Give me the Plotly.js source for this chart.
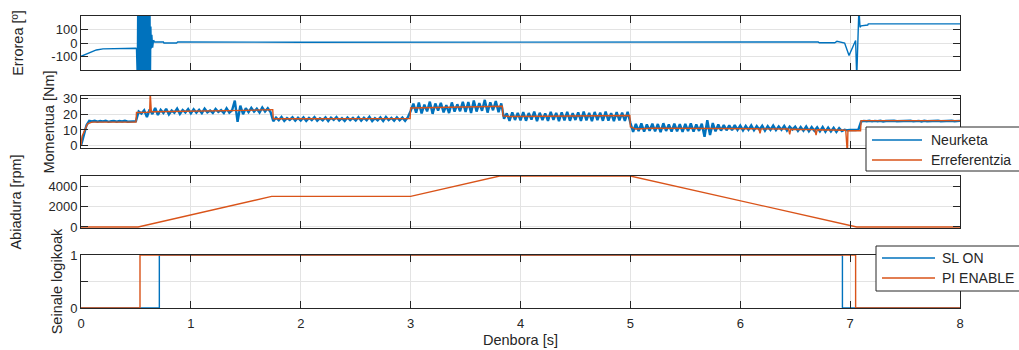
<!DOCTYPE html>
<html>
<head>
<meta charset="utf-8">
<script src="https://cdn.plot.ly/plotly-3.0.1.min.js"></script>
<style>html,body{margin:0;padding:0;background:#fff;}#chart{width:1019px;height:350px;}</style>
</head>
<body>
<div id="chart"></div>
<script>
// ---------- DATA ----------
// Subplot 1: Errorea [º]
const errT = [0, 0.05, 0.1, 0.14, 0.2, 0.3, 0.4, 0.5, 0.505,
  0.512, 0.516, 0.52, 0.524, 0.528, 0.532, 0.536, 0.54, 0.544, 0.548, 0.552, 0.556, 0.56, 0.564, 0.568,
  0.572, 0.576, 0.58, 0.584, 0.588, 0.592, 0.596, 0.6, 0.604, 0.608, 0.612, 0.616, 0.62, 0.624, 0.628, 0.632,
  0.636, 0.64, 0.645, 0.652, 0.66, 0.67, 0.75, 0.755, 0.87, 0.88,
  2.0, 3.0, 4.0, 5.0, 6.0, 6.71, 6.72, 6.86, 6.88, 6.92, 6.95, 6.99, 7.02, 7.05, 7.06, 7.08, 7.09, 7.1, 7.16, 7.165, 8];
const errV = [-96, -80, -62, -50, -42, -40, -39, -38, -45,
  -250, 250, -250, 250, -250, 250, -250, 250, -250, 250, -250, 250, -250, 250, -250,
  250, -250, 250, -250, 250, -250, 250, -250, 250, -250, 250, -250, 250, -250, 250, -250,
  120, -40, 59, -34, 20, 7, 7, 0, 0, 7,
  6, 7, 6, 7, 6, 7, 2, 2, 12, 8, 0, -90, -36, 18, -250, 250, 114, 124, 130, 138, 138];

// Subplot 2: Momentua [Nm]
const torqueDt = 0.025; // sampling interval of the measured torque [s]
const torqueMeas = [
  0, 6, 13, 15.8, 15.4, 15.9, 15.3, 15.7, 15.5, 15.9, 15.2, 15.6, 15.8, 15.3, 15.7, 15.4, 15.9, 15.3, 15.6, 15.5,
  15.6, 21.8, 20.5, 22.6, 18.2, 23.1, 20.2, 24.0, 19.6, 22.9, 20.8, 23.5, 19.9, 22.4, 21.0, 23.6, 20.3, 22.8, 21.2, 23.4,
  20.6, 23.2, 21.0, 22.9, 20.7, 23.6, 21.3, 22.5, 20.9, 23.4, 21.5, 22.7, 20.8, 23.8, 21.1, 22.6, 28.8, 15.2, 25.5, 20.1,
  23.9, 21.4, 24.1, 21.7, 23.6, 21.2, 24.3, 21.8, 23.9, 21.5, 15.6, 17.9, 16.2, 18.3, 15.8, 17.6, 16.4, 18.1, 15.9, 17.8,
  16.1, 18.0, 15.8, 17.7, 16.3, 18.2, 15.9, 17.5, 16.2, 18.1, 15.7, 17.9, 16.4, 18.3, 16.0, 17.6, 15.8, 18.0, 16.3, 17.7,
  16.0, 18.2, 15.9, 17.8, 16.2, 18.4, 15.7, 17.6, 16.1, 18.0, 15.8, 18.3, 16.3, 17.7, 15.9, 18.1, 16.2, 17.9, 15.8, 18.2,
  22.1, 26.8, 21.0, 27.5, 20.6, 26.2, 21.9, 28.1, 20.3, 26.9, 22.4, 27.3, 21.2, 25.8, 20.8, 27.6, 21.7, 26.4, 22.0, 28.0,
  21.5, 27.9, 20.9, 28.8, 21.8, 27.2, 22.3, 29.2, 21.1, 27.7, 22.6, 28.5, 21.4, 27.0, 17.2, 20.6, 15.8, 21.3, 16.4, 20.9,
  16.1, 21.4, 15.9, 20.8, 16.6, 21.7, 15.7, 21.0, 16.3, 20.6, 15.8, 21.5, 16.5, 20.9, 15.6, 21.2, 16.2, 21.6, 15.9, 20.7,
  16.4, 21.3, 15.8, 21.8, 16.1, 20.9, 15.7, 21.5, 16.3, 21.1, 15.9, 21.7, 16.0, 20.8, 15.6, 21.4, 16.2, 21.0, 15.8, 21.6,
  14.6, 8.8, 13.9, 9.3, 14.2, 8.9, 13.6, 9.5, 14.0, 9.1, 13.8, 8.7, 14.3, 9.4, 13.5, 9.0, 14.1, 9.2, 13.7, 8.8,
  13.9, 9.3, 14.2, 8.9, 13.6, 9.4, 14.0, 5.6, 16.2, 6.8, 14.4, 9.1, 13.5, 9.6, 13.2, 9.8, 12.9, 9.9, 13.1, 10.0,
  12.8, 9.7, 12.6, 10.1, 12.9, 9.8, 12.5, 10.2, 12.7, 9.6, 12.4, 10.0, 12.8, 9.9, 12.3, 10.1, 12.6, 9.7, 12.2, 10.3,
  12.1, 9.4, 11.9, 9.6, 12.2, 9.2, 11.8, 9.5, 11.7, 9.1, 11.9, 8.9, 11.5, 9.0, 11.4, 8.8, 11.2, 9.3, 10.2, 9.8,
  10.1, 9.9, 10.0, 10.2, 15.4, 15.8, 15.6, 15.9, 15.5, 15.8, 15.6, 15.9, 15.4, 15.7, 15.8, 15.5, 15.9, 15.6, 15.7, 15.5,
  15.8, 15.6, 15.9, 15.5, 15.7, 15.8, 15.4, 15.9, 15.6, 15.7, 15.8, 15.5, 15.9, 15.6, 15.7, 15.8, 15.5, 15.9, 15.6, 15.7,
  15.8];
const torqueRefT = [0, 0.01, 0.06, 0.1, 0.5, 0.505, 0.6, 0.625, 0.63, 0.64, 0.65, 0.9, 1.2, 1.5, 1.745, 1.75, 2.0, 2.5, 2.995,
  3.0, 3.2, 3.5, 3.835, 3.84, 3.9, 4.2, 4.6, 4.995, 5.0, 5.05, 5.2, 5.6, 6.0, 6.17, 6.18, 6.19, 6.44, 6.45, 6.46,
  6.68, 6.69, 6.7, 6.96, 6.965, 6.975, 6.98, 7.095, 7.1, 8];
const torqueRefV = [0, 6, 14, 15, 15, 21.2, 21.3, 21.4, 34, 21.6, 21.6, 21.8, 22.2, 22.5, 23, 17.2, 17.2, 17.2, 17.3,
  24.0, 24.2, 24.8, 25.2, 19.0, 18.6, 18.8, 19.0, 19.2, 12.0, 10.6, 11.2, 11.0, 10.8, 10.8, 7.8, 10.7, 10.6, 7.2, 10.5,
  10.2, 6.7, 10.1, 9.8, -5, -5, 9.6, 9.5, 16.0, 16.0];

// Subplot 3: Abiadura [rpm]
const speedT = [0, 0.52, 1.735, 3.0, 3.81, 5.0, 7.06, 8];
const speedV = [0, 0, 3000, 3000, 5000, 5000, 0, 0];

// Subplot 4: Seinale logikoak (step signals, value holds until next time)
const slOnT = [0, 0.713, 6.93, 8];
const slOnV = [0, 1, 0, 0];
const piEnT = [0, 0.537, 7.05, 8];
const piEnV = [0, 1, 0, 0];

// Tick labels
const xTicks = [0, 1, 2, 3, 4, 5, 6, 7, 8];
const xTickText = ['0', '1', '2', '3', '4', '5', '6', '7', '8'];
const errTicks = [-100, 0, 100];
const errTickText = ['-100', '0', '100'];
const torqueTicks = [0, 10, 20, 30];
const speedTicks = [0, 2000, 4000];
const sigTicks = [0, 0.5, 1];
const sigTickText = ['0', '', '1'];

// Legend entries
const legend1Names = ['Neurketa', 'Erreferentzia'];
const legend2Names = ['SL ON', 'PI ENABLE'];

// ---------- PLOT ----------
const BLUE = '#0072BD', ORANGE = '#D95319';
const FONT = 'Liberation Sans, Arial, Helvetica, sans-serif';
const TXT = '#262626';

const torqueMeasT = torqueMeas.map((_, i) => +(i * torqueDt).toFixed(3));

const traces = [
  {x: errT, y: errV, xaxis: 'x', yaxis: 'y', mode: 'lines', line: {color: BLUE, width: 1.4}, name: 'Errorea'},
  {x: torqueMeasT, y: torqueMeas, xaxis: 'x2', yaxis: 'y2', mode: 'lines', name: legend1Names[0],
   line: {color: BLUE, width: 2.4}},
  {x: torqueRefT, y: torqueRefV, xaxis: 'x2', yaxis: 'y2', mode: 'lines', name: legend1Names[1],
   line: {color: ORANGE, width: 1.4}},
  {x: speedT, y: speedV, xaxis: 'x3', yaxis: 'y3', mode: 'lines', line: {color: ORANGE, width: 1.4}, name: 'Abiadura'},
  {x: slOnT, y: slOnV, xaxis: 'x4', yaxis: 'y4', mode: 'lines', name: legend2Names[0],
   line: {color: BLUE, width: 1.4, shape: 'hv'}},
  {x: piEnT, y: piEnV, xaxis: 'x4', yaxis: 'y4', mode: 'lines', name: legend2Names[1],
   line: {color: ORANGE, width: 1.4, shape: 'hv'}}
];

function xax(anchor, showLabels) {
  return {
    domain: [0, 1], anchor: anchor, range: [0, 8], tickvals: xTicks, ticktext: xTickText,
    showticklabels: showLabels, ticks: 'inside', ticklen: 7, tickcolor: TXT, tickwidth: 1,
    showline: true, linecolor: TXT, linewidth: 1, mirror: 'ticks',
    showgrid: true, gridcolor: '#e3e3e3', gridwidth: 1, zeroline: false,
    tickfont: {family: FONT, size: 13, color: TXT}, ticklabelstandoff: 3
  };
}
function yax(anchor, domain, range, tickvals, ticktext, title, standoff) {
  return {
    domain: domain, anchor: anchor, range: range, tickvals: tickvals, ticktext: ticktext,
    ticks: 'inside', ticklen: 7, tickcolor: TXT, tickwidth: 1,
    showline: true, linecolor: TXT, linewidth: 1, mirror: 'ticks',
    showgrid: true, gridcolor: '#e3e3e3', gridwidth: 1, zeroline: false,
    tickfont: {family: FONT, size: 13, color: TXT},
    title: {text: title, font: {family: FONT, size: 14.5, color: TXT}, standoff: standoff}
  };
}

// Legend boxes (MATLAB-style), positioned in figure pixels
const PL = 81, PW = 879, PB = 308, PH = 292;
const px2x = p => (p - PL) / PW;
const px2y = p => (PB - p) / PH;
const shapes = [], annotations = [];
function addLegend(box, lineX0, lineX1, textX, rowsY, names, colors) {
  shapes.push({type: 'rect', xref: 'paper', yref: 'paper',
    x0: px2x(box[0]), x1: px2x(box[1]), y0: px2y(box[3]), y1: px2y(box[2]),
    line: {color: TXT, width: 1}, fillcolor: '#ffffff', layer: 'above'});
  names.forEach((n, i) => {
    shapes.push({type: 'line', xref: 'paper', yref: 'paper',
      x0: px2x(lineX0), x1: px2x(lineX1), y0: px2y(rowsY[i]), y1: px2y(rowsY[i]),
      line: {color: colors[i], width: 1.6}, layer: 'above'});
    annotations.push({xref: 'paper', yref: 'paper', x: px2x(textX), y: px2y(rowsY[i]),
      xanchor: 'left', yanchor: 'middle', showarrow: false, text: n,
      font: {family: FONT, size: 14, color: TXT}});
  });
}
addLegend([866, 1030, 127, 171], 872, 922, 929, [140, 160], legend1Names, [BLUE, ORANGE]);
addLegend([876, 1030, 246, 291], 882, 935, 940, [258, 278], legend2Names, [BLUE, ORANGE]);

const layout = {
  width: 1019, height: 350,
  margin: {l: 81, r: 59, t: 16, b: 42, autoexpand: false},
  paper_bgcolor: '#ffffff', plot_bgcolor: '#ffffff',
  font: {family: FONT, size: 13, color: TXT},
  showlegend: false,
  xaxis: xax('y', false),
  xaxis2: xax('y2', false),
  xaxis3: xax('y3', false),
  xaxis4: Object.assign(xax('y4', true), {title: {text: 'Denbora [s]', font: {family: FONT, size: 14.5, color: TXT}, standoff: 5}}),
  yaxis: yax('x', [0.815, 1], [-195, 195], errTicks, errTickText, 'Errorea [º]', 24),
  yaxis2: yax('x2', [0.548, 0.726], [-1.5, 31.7], torqueTicks, torqueTicks.map(String), 'Momentua [Nm]', 4),
  yaxis3: yax('x3', [0.274, 0.452], [-100, 5000], speedTicks, speedTicks.map(String), 'Abiadura [rpm]', 23),
  yaxis4: yax('x4', [0, 0.1815], [0, 1], sigTicks, sigTickText, 'Seinale logikoak', 4),
  shapes: shapes,
  annotations: annotations
};

Plotly.newPlot('chart', traces, layout, {displayModeBar: false, staticPlot: true});
</script>
</body>
</html>
